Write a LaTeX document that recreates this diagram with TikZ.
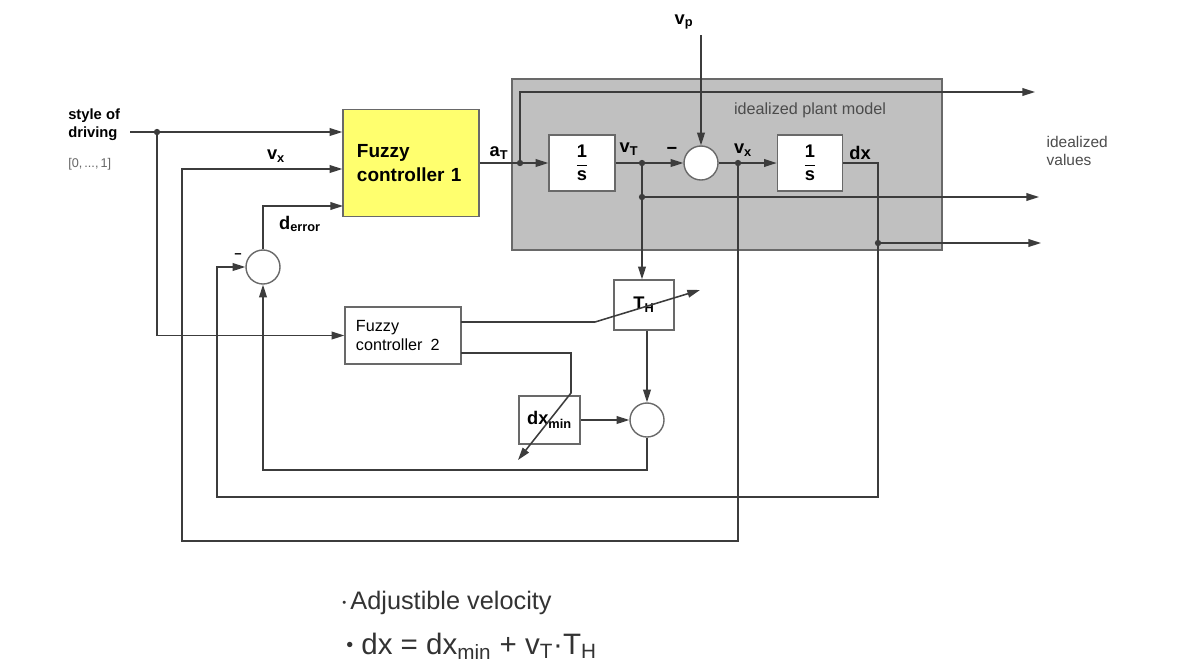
\documentclass[tikz,border=0pt]{standalone}
\usepackage{fontspec}
\setmainfont{Liberation Sans}
\usetikzlibrary{arrows.meta, positioning, calc}
\definecolor{plantgray}{RGB}{192,192,192}
\definecolor{fuzzyyellow}{RGB}{255,255,110}
\definecolor{linegray}{RGB}{60,60,60}
\definecolor{edgegray}{RGB}{105,105,105}
\newcommand{\oneovers}{$\displaystyle\frac{\textbf{1}}{\textbf{s}}$}

\begin{document}
\begin{tikzpicture}[x=0.025cm, y=-0.025cm,
  sig/.style={draw=linegray, line width=1.1pt, -{Triangle[length=9pt,width=5.5pt]}},
  blk/.style={draw=edgegray, line width=1pt, fill=white, inner sep=0pt},
  sumnode/.style={circle, draw=edgegray, line width=1pt, fill=white, minimum size=0.85cm, inner sep=0pt},
  jdot/.style={circle, fill=linegray, inner sep=0pt, minimum size=4.5pt},
  lbl/.style={font=\bfseries\fontsize{13}{14}\selectfont, inner sep=1pt},
  note/.style={font=\fontsize{11.5}{13}\selectfont, text=black!70, inner sep=1pt}]
\useasboundingbox (0,0) rectangle (1198,666);

% plant
\node[draw=edgegray, line width=1.2pt, fill=plantgray, minimum width=10.75cm, minimum height=4.275cm] (plant) at (727,164.5) {};
\node[note] (plantlbl) at (810,110) {idealized plant model};

% blocks
\node[draw=edgegray, line width=1pt, fill=fuzzyyellow, minimum width=3.4cm, minimum height=2.675cm,
      text width=2.7cm, align=left, font=\bfseries\fontsize{13.5}{16.5}\selectfont] (fc1) at (411,163) {Fuzzy\\controller 1};
\node[blk, minimum width=2.9cm, minimum height=1.425cm, text width=2.35cm, align=left,
      font=\fontsize{11.5}{13.5}\selectfont] (fc2) at (403,335.5) {Fuzzy\\controller\, 2};
\node[blk, minimum width=1.65cm, minimum height=1.4cm, font=\fontsize{13}{14}\selectfont] (box1) at (582,163) {\oneovers};
\node[blk, minimum width=1.63cm, minimum height=1.4cm, font=\fontsize{13}{14}\selectfont] (box2) at (810,163) {\oneovers};
\node[blk, minimum width=1.5cm, minimum height=1.25cm, lbl] (th) at (644,305) {T\textsubscript{H}};
\node[blk, minimum width=1.525cm, minimum height=1.2cm, lbl] (dxm) at (549.5,420) {dx\textsubscript{min}};
\node[sumnode] (err) at (263,267) {};
\node[sumnode] (pc) at (701,163) {};
\node[sumnode] (sc) at (647,420) {};

% coordinates
\coordinate (in1) at (130,132);
\coordinate (vxl) at (182,169);
\coordinate (fc1in3) at (343,206);
\coordinate (dxl) at (217,497);
\coordinate (fbl) at (263,470);
\coordinate (vpin) at (701,35);
\coordinate (out1) at (1035,92);
\coordinate (out2) at (1039,197);
\coordinate (out3) at (1041,243);
\coordinate (fc2o1) at (461,322);
\coordinate (thk) at (595,322);
\coordinate (thtip) at (700,290);
\coordinate (fc2o2) at (461,353);
\coordinate (dxk) at (571,393);
\coordinate (dxtip) at (518,460);
\node[jdot] (j1) at (157,132) {};
\node[jdot] (jat) at (520,163) {};
\node[jdot] (jvt) at (642,163) {};
\node[jdot] (jmid) at (642,197) {};
\node[jdot] (jvx) at (738,163) {};
\node[jdot] (jdx) at (878,243) {};

% signals
\draw[sig] (in1) -- (in1 -| fc1.west);
\draw[sig] (j1) |- (fc2.west);
\draw[sig] (jvx.center) |- (182,541) -- (vxl) -- (vxl -| fc1.west);
\draw[sig] (err.north) |- (fc1in3);
\draw[sig] (box2.east) -| (dxl -| jdx) -- (dxl) |- (err.west);
\draw[sig] (sc.south) |- (fbl) -- (err.south);
\draw[sig] (fc1.east) -- (box1.west);
\draw[sig] (jat.center) |- (out1);
\draw[sig] (box1.east) -- (pc.west);
\draw[sig] (jvt.center) -- (jvt |- th.north);
\draw[sig] (jmid.center) -- (out2);
\draw[sig] (vpin) -- (pc.north);
\draw[sig] (pc.east) -- (box2.west);
\draw[sig] (jdx.center) -- (out3);
\draw[sig] (sc.north |- th.south) -- (sc.north);
\draw[sig] (dxm.east) -- (sc.west);
\draw[sig] (fc2o1) -- (thk) -- (thtip);
\draw[sig] (fc2o2) -| (dxk) -- (dxtip);

% labels
\node[font=\bfseries\fontsize{10.5}{13}\selectfont, align=left, anchor=west, inner sep=0pt] (sodlbl) at (68,125) {style of\\driving};
\node[font=\fontsize{9}{10}\selectfont, text=black!60, anchor=west, inner sep=0pt] (rangelbl) at (68,164) {[0,\,...,\,1]};
\node[lbl] (vxlbl) at (276,156) {v\textsubscript{x}};
\node[lbl] (derrlbl) at (300,224) {d\textsubscript{error}};
\node[font=\bfseries\fontsize{9}{10}\selectfont] (minus1) at (238,256) {−};
\node[lbl] (atlbl) at (499,153) {a\textsubscript{T}};
\node[lbl] (vtlbl) at (629,149) {v\textsubscript{T}};
\node[lbl] (minus2) at (672,151) {−};
\node[lbl] (vx2lbl) at (743,150) {v\textsubscript{x}};
\node[lbl] (dxlbl) at (860,153) {dx};
\node[lbl] (vplbl) at (684,22) {v\textsubscript{p}};
\node[note, align=left, anchor=west, font=\fontsize{11}{13}\selectfont] (idvals) at (1045,151) {idealized\\values};
\node[anchor=west, inner sep=0pt, font=\fontsize{18}{20}\selectfont, text=black!80] (bul1) at (342,603)
  {\raisebox{0.25ex}{\fontsize{8}{8}\selectfont\textbullet}\,Adjustible velocity};
\node[anchor=west, inner sep=0pt, font=\fontsize{21}{24}\selectfont, text=black!80] (bul2) at (346,646)
  {\raisebox{0.2ex}{\fontsize{14}{14}\selectfont\textbullet} dx = dx\textsubscript{min} + v\textsubscript{T}·T\textsubscript{H}};
\end{tikzpicture}
\end{document}
